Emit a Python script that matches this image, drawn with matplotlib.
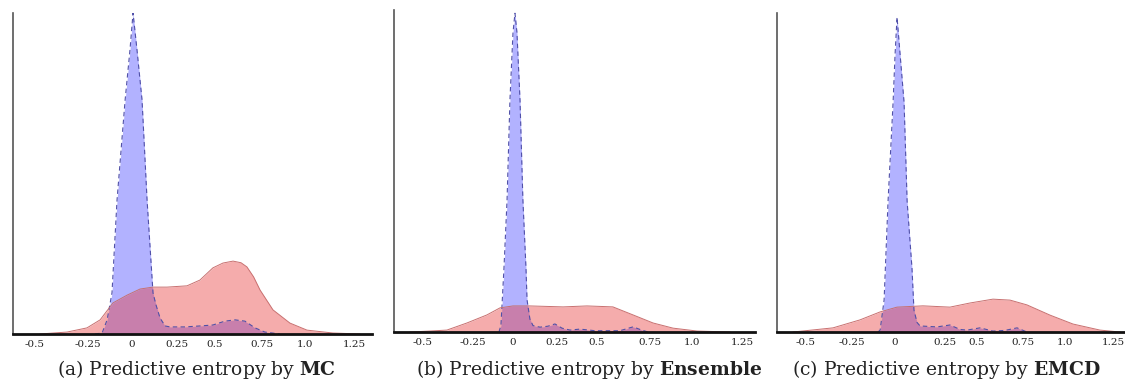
import matplotlib
matplotlib.use("Agg")
from matplotlib import pyplot as plt

# density curves (x = entropy, y = density scaled to axis height)
# blue: in-distribution, red: out-of-distribution

# (a) MC
mc_in_x = [-0.211, -0.172, -0.144, -0.117, -0.089, -0.044, -0.017, 0.0, 0.022, 0.05, 0.078,
           0.111, 0.128, 0.15, 0.178, 0.206, 0.289, 0.372, 0.444, 0.511, 0.567, 0.622,
           0.678, 0.733, 0.817]
mc_in_y = [0.0, 0.003, 0.044, 0.128, 0.417, 0.729, 0.885, 1.0, 0.885, 0.729, 0.417,
           0.128, 0.09, 0.05, 0.025, 0.022, 0.022, 0.025, 0.028, 0.04, 0.044, 0.04,
           0.019, 0.006, 0.0]
mc_out_x = [-0.517, -0.367, -0.256, -0.183, -0.111, -0.033, 0.039, 0.111, 0.189, 0.3,
            0.372, 0.444, 0.5, 0.556, 0.6, 0.633, 0.67, 0.706, 0.778, 0.872, 0.967,
            1.111, 1.261]
mc_out_y = [0.0, 0.006, 0.019, 0.044, 0.097, 0.121, 0.14, 0.146, 0.146, 0.15,
            0.168, 0.206, 0.221, 0.227, 0.222, 0.209, 0.178, 0.137, 0.075, 0.034, 0.012,
            0.003, 0.0]

# (b) Ensemble
ens_in_x = [-0.089, -0.078, -0.061, -0.044, -0.028, -0.011, 0.0, 0.011, 0.028, 0.044,
            0.061, 0.067, 0.083, 0.1, 0.139, 0.183, 0.222, 0.261, 0.306, 0.361, 0.444,
            0.583, 0.656, 0.694, 0.739]
ens_in_y = [0.0, 0.02, 0.2, 0.41, 0.72, 0.93, 0.99, 0.93, 0.72, 0.41,
            0.2, 0.1, 0.04, 0.02, 0.015, 0.018, 0.025, 0.012, 0.006, 0.009, 0.004,
            0.004, 0.016, 0.008, 0.0]
ens_out_x = [-0.583, -0.472, -0.378, -0.267, -0.156, -0.083, -0.011, 0.083, 0.267, 0.4,
             0.544, 0.656, 0.767, 0.878, 1.011, 1.194]
ens_out_y = [0.0, 0.003, 0.006, 0.028, 0.053, 0.075, 0.081, 0.081, 0.078, 0.081,
             0.078, 0.053, 0.028, 0.012, 0.003, 0.0]

# (c) EMCD
emcd_in_x = [-0.106, -0.094, -0.072, -0.05, -0.022, -0.011, 0.0, 0.017, 0.039, 0.056,
             0.083, 0.094, 0.111, 0.128, 0.222, 0.294, 0.35, 0.389, 0.461, 0.533, 0.6,
             0.667, 0.722]
emcd_in_y = [0.0, 0.006, 0.1, 0.41, 0.72, 0.87, 0.987, 0.87, 0.72, 0.41,
             0.2, 0.069, 0.03, 0.019, 0.016, 0.022, 0.008, 0.006, 0.013, 0.003, 0.005,
             0.013, 0.0]
emcd_out_x = [-0.578, -0.356, -0.206, -0.094, 0.0, 0.144, 0.294, 0.406, 0.533, 0.628,
              0.722, 0.85, 0.978, 1.128, 1.239]
emcd_out_y = [0.0, 0.013, 0.038, 0.063, 0.078, 0.082, 0.078, 0.091, 0.103, 0.1,
              0.085, 0.053, 0.025, 0.006, 0.0]

tick_labels = ["-0.5", "-0.25", "0", "0.25", "0.5", "0.75", "1.0", "1.25"]
# label positions as printed under each panel (not evenly spaced in the source)
ticks_mc = [-0.55, -0.25, -0.006, 0.244, 0.456, 0.717, 0.956, 1.233]
ticks_ens = [-0.511, -0.233, -0.011, 0.233, 0.456, 0.75, 0.983, 1.261]
ticks_emcd = [-0.511, -0.25, -0.011, 0.267, 0.444, 0.7, 0.933, 1.2]

captions = ["(a) Predictive entropy by $\\mathbf{MC}$",
            "(b) Predictive entropy by $\\mathbf{Ensemble}$",
            "(c) Predictive entropy by $\\mathbf{EMCD}$"]

plt.rcParams["mathtext.fontset"] = "custom"
plt.rcParams["mathtext.rm"] = "DejaVu Serif"
plt.rcParams["mathtext.bf"] = "DejaVu Serif:bold"

fig = plt.figure(figsize=(11.25, 3.87), dpi=100)

panels = [
    ([0.0116, 0.137, 0.319, 0.8295], (-0.667, 1.328), mc_in_x, mc_in_y, mc_out_x, mc_out_y, ticks_mc, 0.175),
    ([0.3502, 0.1421, 0.3209, 0.832], (-0.672, 1.333), ens_in_x, ens_in_y, ens_out_x, ens_out_y, ticks_ens, 0.524),
    ([0.6907, 0.1421, 0.3093, 0.8243], (-0.667, 1.267), emcd_in_x, emcd_in_y, emcd_out_x, emcd_out_y, ticks_emcd, 0.841),
]

for (rect, xlim, ix, iy, ox, oy, ticks, cx), cap in zip(panels, captions):
    ax = fig.add_axes(rect)
    ax.fill_between(ix, iy, color="#5555ff", alpha=0.45, linewidth=0)
    ax.plot(ix, iy, color="#5050a8", linewidth=0.8, linestyle=(0, (4, 3)))
    ax.fill_between(ox, oy, color="#e83a3a", alpha=0.42, linewidth=0)
    ax.plot(ox, oy, color="#c87070", linewidth=0.7)
    ax.set_xlim(*xlim)
    ax.set_ylim(0, 1)
    ax.set_xticks(ticks)
    ax.set_xticklabels(tick_labels, family="DejaVu Serif", fontsize=7.5, color="#222222")
    ax.set_yticks([])
    ax.tick_params(axis="x", length=0, pad=4.5)
    ax.spines["top"].set_visible(False)
    ax.spines["right"].set_visible(False)
    ax.spines["left"].set_color("#555555")
    ax.spines["left"].set_linewidth(1.2)
    ax.spines["bottom"].set_color("#111111")
    ax.spines["bottom"].set_linewidth(2)
    fig.text(cx, 0.044, cap, ha="center", va="center", family="DejaVu Serif",
             fontsize=13.5, color="#222222")

fig.savefig("out.png", dpi=100)
